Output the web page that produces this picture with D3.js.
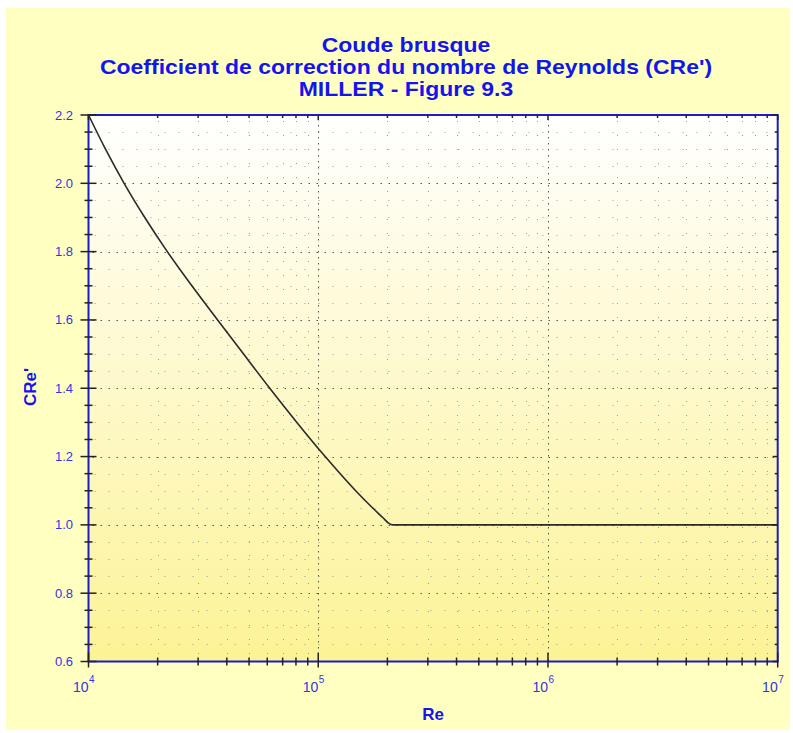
<!DOCTYPE html>
<html><head><meta charset="utf-8">
<script src="https://cdn.jsdelivr.net/npm/d3@7"></script>
<style>body{margin:0;background:#fff}</style>
</head><body><svg id="c" width="793" height="733"></svg>
<script>
const titleLines = ["Coude brusque", "Coefficient de correction du nombre de Reynolds (CRe')", "MILLER - Figure 9.3"];
const xLabel = "Re";
const yLabel = "CRe'";
const reValues  = [1e4, 1.186e4, 1.429e4, 1.758e4, 2.203e4, 2.818e4, 3.648e4, 4.732e4, 6.152e4, 8.072e4, 1.072e5, 1.455e5, 1.722e5, 1.919e5, 2.023e5, 2.113e5, 1e7];
const creValues = [2.2, 2.1,     2.0,     1.9,     1.8,     1.7,     1.6,     1.5,     1.4,     1.3,     1.2,     1.1,     1.05,    1.02,    1.005,   1.0,     1.0];
const xTickExponents = [4, 5, 6, 7];
const yTicks = [0.6, 0.8, 1.0, 1.2, 1.4, 1.6, 1.8, 2.0, 2.2];

const svg = d3.select("#c");
const L = 88.5, R = 777.7, T = 115, B = 661.5;
const x = d3.scaleLog().domain([1e4, 1e7]).range([L, R]);
const y = d3.scaleLinear().domain([0.6, 2.2]).range([B, T]);

const defs = svg.append("defs");
const g1 = defs.append("linearGradient").attr("id", "pg").attr("x1", 0).attr("x2", 0).attr("y1", 0).attr("y2", 1);
g1.append("stop").attr("offset", "0%").attr("stop-color", "#ffffff");
g1.append("stop").attr("offset", "100%").attr("stop-color", "#fcf396");

// panel
svg.append("rect").attr("x", 6).attr("y", 8).attr("width", 784).attr("height", 722).attr("fill", "#ffffc2");
// plot bg
svg.append("rect").attr("x", L).attr("y", T).attr("width", R - L).attr("height", B - T).attr("fill", "url(#pg)");

// minor positions
const xMinor = [];
for (let e = 4; e < 7; e++) for (let k = 2; k <= 9; k++) xMinor.push(k * Math.pow(10, e));
const yMinor = [];
for (let i = 0; i <= 32; i++) { const v = +(0.6 + i * 0.05).toFixed(2); if (Math.abs((v - 0.6) / 0.2 - Math.round((v - 0.6) / 0.2)) > 1e-6) yMinor.push(v); }
const xMajor = xTickExponents.map(e => Math.pow(10, e));

const grid = svg.append("g");
// minor grid
grid.selectAll(".hm").data(yMinor).enter().append("line")
  .attr("x1", L + 6).attr("x2", R).attr("y1", d => Math.round(y(d)) + 0.5).attr("y2", d => Math.round(y(d)) + 0.5)
  .attr("stroke", "#9a9a9a").attr("stroke-width", 1).attr("stroke-dasharray", "1,13");
grid.selectAll(".vm").data(xMinor).enter().append("line")
  .attr("y1", T + 6).attr("y2", B).attr("x1", d => Math.round(x(d)) + 0.5).attr("x2", d => Math.round(x(d)) + 0.5)
  .attr("stroke", "#9a9a9a").attr("stroke-width", 1).attr("stroke-dasharray", "1,13");
// major grid
grid.selectAll(".hM").data(yTicks.slice(1, -1)).enter().append("line")
  .attr("x1", L + 4).attr("x2", R).attr("y1", d => Math.round(y(d)) + 0.5).attr("y2", d => Math.round(y(d)) + 0.5)
  .attr("stroke", "#555").attr("stroke-width", 1).attr("stroke-dasharray", "1.5,6.5");
grid.selectAll(".vM").data(xMajor.slice(1, -1)).enter().append("line")
  .attr("y1", T + 4).attr("y2", B).attr("x1", d => Math.round(x(d)) + 0.5).attr("x2", d => Math.round(x(d)) + 0.5)
  .attr("stroke", "#555").attr("stroke-width", 1).attr("stroke-dasharray", "1.5,4.5");

// curve
const line = d3.line().x(d => x(d[0])).y(d => y(d[1])).curve(d3.curveMonotoneX);
svg.append("path").datum(reValues.map((r, i) => [r, creValues[i]]))
  .attr("d", line).attr("fill", "none").attr("stroke", "#2a2a2a").attr("stroke-width", 1.6);

// frame
svg.append("rect").attr("x", L).attr("y", T).attr("width", R - L).attr("height", B - T)
  .attr("fill", "none").attr("stroke", "#1c1cc8").attr("stroke-width", 2);

const tk = svg.append("g").attr("stroke", "#222").attr("stroke-width", 1.5);
// left ticks
yTicks.forEach(v => tk.append("line").attr("x1", L - 8).attr("x2", L + 8).attr("y1", y(v)).attr("y2", y(v)));
yMinor.forEach(v => tk.append("line").attr("x1", L - 4).attr("x2", L + 4).attr("y1", y(v)).attr("y2", y(v)));
// right ticks
yTicks.forEach(v => tk.append("line").attr("x1", R - 5).attr("x2", R).attr("y1", y(v)).attr("y2", y(v)));
yMinor.forEach(v => tk.append("line").attr("x1", R - 3).attr("x2", R).attr("y1", y(v)).attr("y2", y(v)));
// bottom ticks
xMajor.forEach(v => tk.append("line").attr("y1", B - 9).attr("y2", B + 6).attr("x1", x(v)).attr("x2", x(v)));
xMinor.forEach(v => tk.append("line").attr("y1", B - 4).attr("y2", B + 4).attr("x1", x(v)).attr("x2", x(v)));
// top ticks
xMajor.forEach(v => tk.append("line").attr("y1", T).attr("y2", T + 5).attr("x1", x(v)).attr("x2", x(v)));
xMinor.forEach(v => tk.append("line").attr("y1", T).attr("y2", T + 3).attr("x1", x(v)).attr("x2", x(v)));

const lblColor = "#3434e6";
// y tick labels
svg.append("g").selectAll("text").data(yTicks).enter().append("text")
  .attr("x", 73).attr("y", d => y(d)).attr("dy", "0.35em").attr("text-anchor", "end")
  .attr("font-family", "Arial, 'Liberation Sans', sans-serif").attr("font-size", 13).attr("fill", lblColor)
  .text(d => d.toFixed(1));
// x tick labels
const xl = svg.append("g").attr("font-family", "Arial, 'Liberation Sans', sans-serif").attr("fill", lblColor);
xTickExponents.forEach(e => {
  const px = x(Math.pow(10, e));
  xl.append("text").attr("x", px).attr("y", 692).attr("text-anchor", "end").attr("font-size", 14).text("10");
  xl.append("text").attr("x", px + 0.5).attr("y", 683).attr("text-anchor", "start").attr("font-size", 10).text(e);
});

// titles
const tc = "#1414ee";
svg.append("g").attr("transform", "translate(406,0) scale(1.095,1)")
  .selectAll("text").data(titleLines).enter().append("text")
  .attr("x", 0).attr("y", (d, i) => 52 + i * 22).attr("text-anchor", "middle")
  .attr("font-family", "Arial, 'Liberation Sans', sans-serif").attr("font-weight", "bold").attr("font-size", 21)
  .attr("fill", tc).text(d => d);
svg.append("text").attr("x", 433).attr("y", 720).attr("text-anchor", "middle")
  .attr("font-family", "Arial, 'Liberation Sans', sans-serif").attr("font-weight", "bold").attr("font-size", 17)
  .attr("fill", tc).text(xLabel);
svg.append("text").attr("transform", "translate(36,387) rotate(-90)").attr("text-anchor", "middle")
  .attr("font-family", "Arial, 'Liberation Sans', sans-serif").attr("font-weight", "bold").attr("font-size", 17)
  .attr("fill", tc).text(yLabel);
</script></body></html>
